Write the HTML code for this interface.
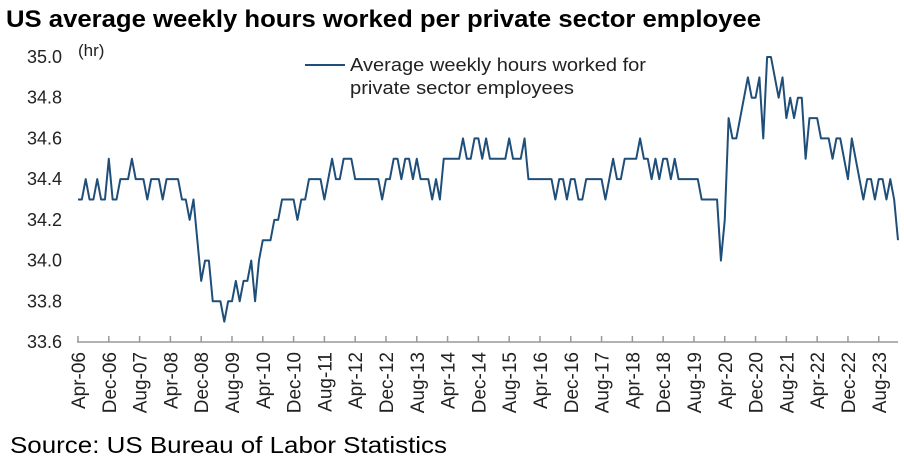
<!DOCTYPE html>
<html><head><meta charset="utf-8">
<style>
body{margin:0;background:#fff;width:904px;height:474px;overflow:hidden;font-family:"Liberation Sans",sans-serif;}
svg{display:block}
</style></head>
<body>
<svg id="chart" width="904" height="474" xmlns="http://www.w3.org/2000/svg">
<text x="6" y="27" font-size="24" font-weight="bold" fill="#000" textLength="755" lengthAdjust="spacingAndGlyphs">US average weekly hours worked per private sector employee</text>
<text x="78" y="56" font-size="17" fill="#222">(hr)</text>
<g>
<line x1="305" y1="65" x2="345" y2="65" stroke="#1f4e79" stroke-width="2"/>
<text x="350" y="71" font-size="18" fill="#222" textLength="296" lengthAdjust="spacingAndGlyphs">Average weekly hours worked for</text>
<text x="350" y="94" font-size="18" fill="#222" textLength="224" lengthAdjust="spacingAndGlyphs">private sector employees</text>
</g>
<g id="yaxis"></g>
<g id="xaxis"></g>
<g id="series"></g>
<text x="10" y="453" font-size="23" fill="#000" textLength="437" lengthAdjust="spacingAndGlyphs">Source: US Bureau of Labor Statistics</text>
</svg>
<script>
const yTicks = [33.6,33.8,34.0,34.2,34.4,34.6,34.8,35.0];
const xLabels = ["Apr-06","Dec-06","Aug-07","Apr-08","Dec-08","Aug-09","Apr-10","Dec-10","Aug-11","Apr-12","Dec-12","Aug-13","Apr-14","Dec-14","Aug-15","Apr-16","Dec-16","Aug-17","Apr-18","Dec-18","Aug-19","Apr-20","Dec-20","Aug-21","Apr-22","Dec-22","Aug-23"];
const hours = [
34.3,34.3,34.4,34.3,34.3,34.4,34.3,34.3,34.5,34.3,34.3,34.4,34.4,34.4,34.5,34.4,34.4,34.4,34.3,34.4,
34.4,34.4,34.3,34.4,34.4,34.4,34.4,34.3,34.3,34.2,34.3,34.1,33.9,34.0,34.0,33.8,33.8,33.8,33.7,33.8,
33.8,33.9,33.8,33.9,33.9,34.0,33.8,34.0,34.1,34.1,34.1,34.2,34.2,34.3,34.3,34.3,34.3,34.2,34.3,34.3,
34.4,34.4,34.4,34.4,34.3,34.4,34.5,34.4,34.4,34.5,34.5,34.5,34.4,34.4,34.4,34.4,34.4,34.4,34.4,34.3,
34.4,34.4,34.5,34.5,34.4,34.5,34.5,34.4,34.5,34.4,34.4,34.4,34.3,34.4,34.3,34.5,34.5,34.5,34.5,34.5,
34.6,34.5,34.5,34.6,34.6,34.5,34.6,34.5,34.5,34.5,34.5,34.5,34.6,34.5,34.5,34.5,34.6,34.4,34.4,34.4,
34.4,34.4,34.4,34.4,34.3,34.4,34.4,34.3,34.4,34.4,34.3,34.3,34.4,34.4,34.4,34.4,34.4,34.3,34.4,34.5,
34.4,34.4,34.5,34.5,34.5,34.5,34.6,34.5,34.5,34.4,34.5,34.4,34.5,34.5,34.4,34.5,34.4,34.4,34.4,34.4,
34.4,34.4,34.3,34.3,34.3,34.3,34.3,34.0,34.2,34.7,34.6,34.6,34.7,34.8,34.9,34.8,34.8,34.9,34.6,35.0,
35.0,34.9,34.8,34.9,34.7,34.8,34.7,34.8,34.8,34.5,34.7,34.7,34.7,34.6,34.6,34.6,34.5,34.6,34.6,34.5,
34.4,34.6,34.5,34.4,34.3,34.4,34.4,34.3,34.4,34.4,34.3,34.4,34.3,34.1];
const labelEvery = 8;

const NS="http://www.w3.org/2000/svg";
const X0=78, X1=898, Y0=342, Y1=57, YMIN=33.6, YMAX=35.0;
const n=hours.length;
function xScale(i){return X0+(X1-X0)*i/(n-1);}
function yScale(v){return Y0-(v-YMIN)/(YMAX-YMIN)*(Y0-Y1);}
function mk(tag,attrs,parent){const e=document.createElementNS(NS,tag);for(const k in attrs)e.setAttribute(k,attrs[k]);parent.appendChild(e);return e;}

const yg=document.getElementById('yaxis');
yTicks.forEach(t=>{
  const tx=mk('text',{x:62,y:yScale(t)+6,'text-anchor':'end','font-size':'18',fill:'#222'},yg);
  
  
  tx.textContent=t.toFixed(1);
});

const xg=document.getElementById('xaxis');
const ax=mk('line',{x1:X0-1,y1:Y0,x2:X1,y2:Y0,stroke:'#999','stroke-width':1.5},xg);


xLabels.forEach((lab,k)=>{
  const x=xScale(k*labelEvery);
  const tk=mk('line',{x1:x,y1:Y0,x2:x,y2:Y0-6,stroke:'#999','stroke-width':1.5},xg);
  
  
  const tx=mk('text',{x:0,y:0,'text-anchor':'end','font-size':'19',fill:'#222',transform:`translate(${x+7},${Y0+10}) rotate(-90)`},xg);
  
  
  tx.textContent=lab;
});

const sg=document.getElementById('series');
const pts=hours.map((v,i)=>xScale(i).toFixed(2)+','+yScale(v).toFixed(2)).join(' ');
const pl=mk('polyline',{points:pts,fill:'none',stroke:'#1f4e79','stroke-width':2,'stroke-linejoin':'round'},sg);


</script>
</body></html>
